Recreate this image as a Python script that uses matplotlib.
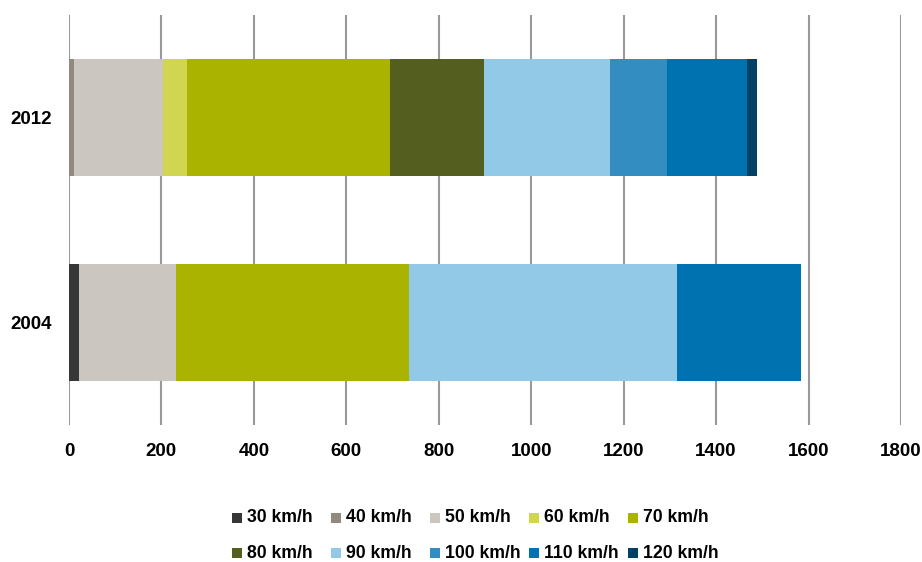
import numpy as np
import matplotlib
matplotlib.use('Agg')
import matplotlib.pyplot as plt
from matplotlib.patches import Rectangle

plt.rcParams['font.family'] = ['Liberation Sans', 'DejaVu Sans']
plt.rcParams['font.weight'] = 'bold'

years = ['2004', '2012']
speeds = ['30 km/h', '40 km/h', '50 km/h', '60 km/h', '70 km/h',
          '80 km/h', '90 km/h', '100 km/h', '110 km/h', '120 km/h']
# km of road per speed limit, rows follow speeds, columns follow years
values = [
    [22, 0],
    [0, 11],
    [209, 193],
    [0, 52],
    [504, 438],
    [0, 204],
    [581, 272],
    [0, 123],
    [268, 173],
    [0, 22],
]
colors = ['#373737', '#918a80', '#cbc7c0', '#d0d64f', '#aab400',
          '#535e1f', '#91c9e6', '#348dc1', '#0072b0', '#004166']

W, H = 922, 562
fig = plt.figure(figsize=(W / 100, H / 100), dpi=100)
ax = fig.add_axes([0.0748, 0.244, 0.9024, 0.729])

ypos = np.arange(len(years))
left = np.zeros(len(years))
for lab, vals, c in zip(speeds, values, colors):
    vals = np.array(vals, dtype=float)
    ax.barh(ypos, vals, left=left, height=0.575, color=c, label=lab,
            zorder=2, linewidth=0)
    left += vals

ax.set_xlim(0, 1800)
ax.set_ylim(-0.5, 1.5)
ax.set_xticks(np.arange(0, 1801, 200))
ax.set_yticks(ypos)
ax.set_yticklabels(years)
ax.grid(axis='x', color='#999999', linewidth=1.5, zorder=0)
ax.set_axisbelow(True)
for s in ax.spines.values():
    s.set_visible(False)
ax.tick_params(axis='both', length=0, labelsize=13.5)
ax.tick_params(axis='x', pad=13)
ax.tick_params(axis='y', pad=12.5)

# legend laid out by hand: five equal-width columns, two rows
x0, colw, sq = 232, 99, 10
rows_y = [518, 553]
for i, (lab, c) in enumerate(zip(speeds, colors)):
    col, row = i % 5, i // 5
    px, py = x0 + col * colw, rows_y[row]
    fig.patches.append(Rectangle(((px) / W, 1 - (py + sq / 2) / H), sq / W, sq / H,
                                 transform=fig.transFigure, facecolor=c,
                                 edgecolor='none', figure=fig))
    fig.text((px + sq + 5) / W, 1 - py / H, lab, fontsize=12.7,
             va='center', ha='left')

plt.savefig('out.png', dpi=100)
